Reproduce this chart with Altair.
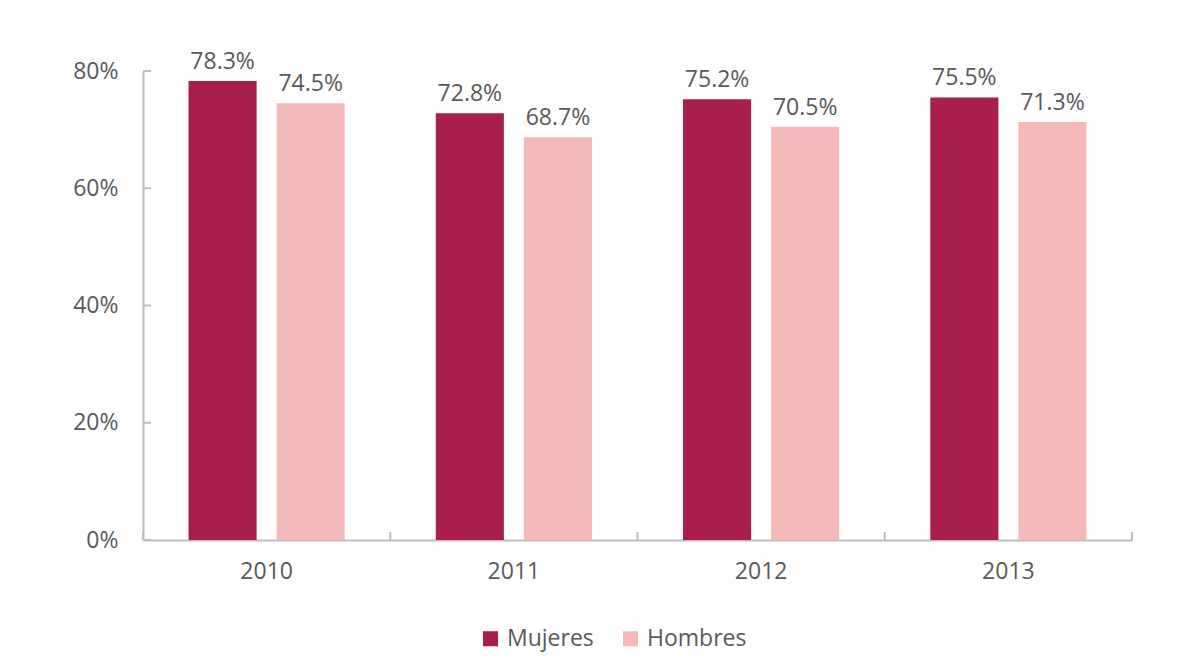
import altair as alt
import pandas as pd

years = ["2010", "2011", "2012", "2013"]
mujeres = [78.3, 72.8, 75.2, 75.5]
hombres = [74.5, 68.7, 70.5, 71.3]
series = ["Mujeres", "Hombres"]
colors = ["#A91F4B", "#F4B9B8"]
y_ticks = [0, 20, 40, 60, 80]

rows = []
for i, yr in enumerate(years):
    rows.append({"year": yr, "serie": "Mujeres", "value": mujeres[i]})
    rows.append({"year": yr, "serie": "Hombres", "value": hombres[i]})
df = pd.DataFrame(rows)
df["label"] = df["value"].map(lambda v: f"{v:.1f}%")

FONT = "Open Sans"
FS = 23
TXT = "#595959"
AX = "#BFBFBF"
W, H = 989, 469

xenc = alt.X("year:N", sort=years, title=None,
             scale=alt.Scale(paddingInner=0, paddingOuter=0),
             axis=alt.Axis(labelFont=FONT, labelFontSize=FS, labelColor=TXT,
                           labelPadding=20, ticks=False, domainColor=AX,
                           domainWidth=2, labelAngle=0))
xoff = alt.XOffset("serie:N", sort=series,
                   scale=alt.Scale(paddingInner=0.227, paddingOuter=0.517))
yscale = alt.Scale(domain=[0, 80], nice=False)

base = alt.Chart(df)

bars = base.mark_bar().encode(
    x=xenc,
    xOffset=xoff,
    y=alt.Y("value:Q", scale=yscale, title=None,
            axis=alt.Axis(values=y_ticks, labelExpr="datum.value + '%'",
                          labelFont=FONT, labelFontSize=FS, labelColor=TXT,
                          labelPadding=25, ticks=False, grid=False,
                          domainColor=AX, domainWidth=2)),
    color=alt.Color("serie:N", sort=series,
                    scale=alt.Scale(domain=series, range=colors),
                    legend=alt.Legend(title=None, orient="none", direction="horizontal",
                                      legendX=336, legendY=556, padding=0,
                                      symbolType="square", symbolSize=225,
                                      symbolStrokeWidth=0, labelFont=FONT,
                                      labelFontSize=FS, labelColor=TXT,
                                      labelOffset=5, columnPadding=25)),
)

labels = base.mark_text(baseline="bottom", dy=-7, font=FONT, fontSize=FS,
                        color=TXT).encode(
    x=alt.X("year:N", sort=years),
    xOffset=xoff,
    y=alt.Y("value:Q", scale=yscale),
    text="label:N",
)

tick_df = pd.DataFrame({"t": y_ticks})
yticks = alt.Chart(tick_df).mark_rule(color=AX, strokeWidth=2).encode(
    y=alt.Y("t:Q", scale=yscale),
    x=alt.value(0), x2=alt.value(8),
)

bound_df = pd.DataFrame({"year": years})
xticks = alt.Chart(bound_df).mark_rule(color=AX, strokeWidth=2).encode(
    x=alt.X("year:N", sort=years, bandPosition=0),
    y=alt.value(H), y2=alt.value(H - 8),
)
xtick_end = alt.Chart(bound_df).mark_rule(color=AX, strokeWidth=2).encode(
    x=alt.value(W), y=alt.value(H), y2=alt.value(H - 8),
)

chart = alt.layer(bars, labels, yticks, xticks, xtick_end).properties(
    width=W, height=H,
    autosize=alt.AutoSizeParams(type="none"),
    padding={"left": 135, "top": 63, "right": 30, "bottom": 120},
    background="white",
).configure_view(stroke=None)

chart.save("out.html", embed_options={"renderer": "svg", "actions": False})
